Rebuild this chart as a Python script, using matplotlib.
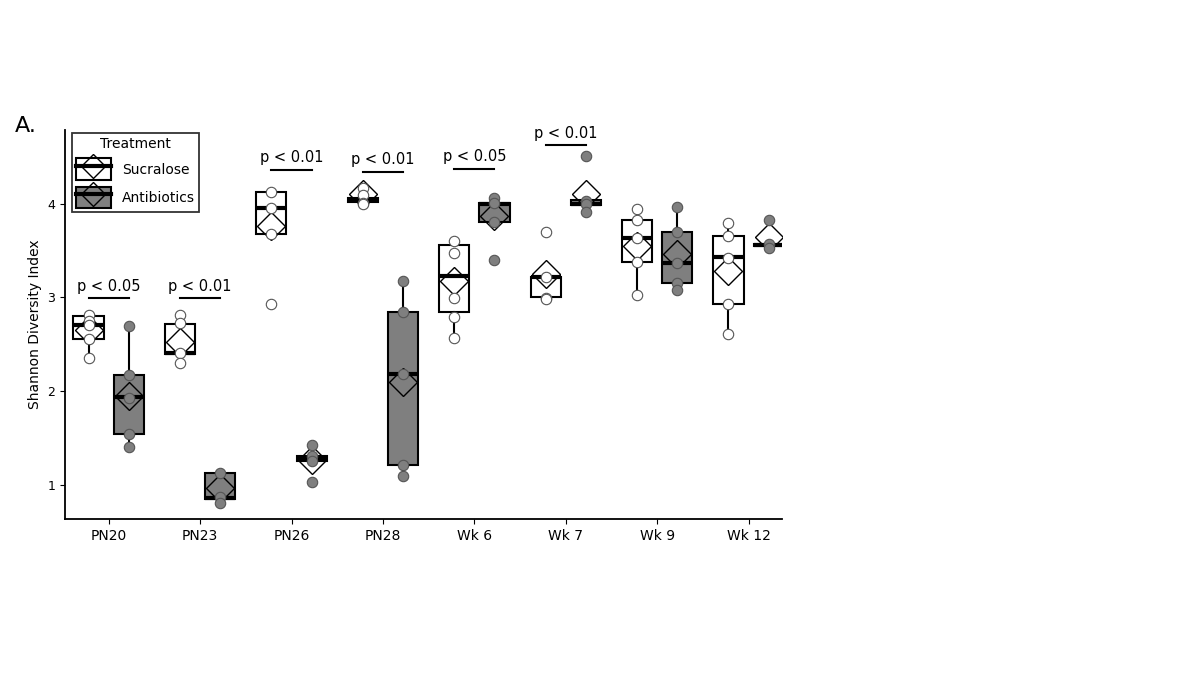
import matplotlib.pyplot as plt
from matplotlib.patches import Patch
from matplotlib.lines import Line2D

timepoints = ['PN20', 'PN23', 'PN26', 'PN28', 'Wk 6', 'Wk 7', 'Wk 9', 'Wk 12']

# box stats per timepoint: (q1, median, q3, whisker low, whisker high, mean)
suc_stats = [
    (2.56, 2.71, 2.80, 2.35, 2.80, 2.65),
    (2.40, 2.41, 2.72, 2.40, 2.72, 2.53),
    (3.68, 3.95, 4.12, 3.68, 4.12, 3.76),
    (4.02, 4.04, 4.06, 4.02, 4.06, 4.10),
    (2.84, 3.23, 3.56, 2.57, 3.56, 3.18),
    (3.00, 3.22, 3.22, 3.00, 3.22, 3.25),
    (3.38, 3.63, 3.82, 3.03, 3.94, 3.55),
    (2.93, 3.43, 3.65, 2.61, 3.79, 3.28),
]
abx_stats = [
    (1.55, 1.94, 2.17, 1.41, 2.70, 1.95),
    (0.85, 0.86, 1.13, 0.85, 1.13, 0.97),
    (1.26, 1.29, 1.31, 1.26, 1.31, 1.27),
    (1.22, 2.18, 2.85, 1.10, 3.18, 2.10),
    (3.80, 4.00, 4.01, 3.80, 4.01, 3.87),
    (3.98, 4.00, 4.04, 3.98, 4.04, 4.10),
    (3.15, 3.37, 3.70, 3.15, 3.96, 3.46),
    (3.55, 3.56, 3.57, 3.55, 3.57, 3.64),
]
suc_points = [
    [2.81, 2.75, 2.71, 2.56, 2.35],
    [2.81, 2.73, 2.41, 2.30],
    [4.12, 3.95, 3.68, 2.93],
    [4.17, 4.09, 4.01, 3.99],
    [3.60, 3.47, 2.99, 2.79, 2.57],
    [3.70, 3.22, 2.99, 2.98],
    [3.94, 3.82, 3.63, 3.38, 3.03],
    [3.79, 3.65, 3.42, 2.93, 2.61],
]
abx_points = [
    [2.70, 2.17, 1.93, 1.55, 1.41],
    [1.13, 0.87, 0.81],
    [1.43, 1.31, 1.26, 1.04],
    [3.18, 2.85, 2.18, 1.22, 1.10],
    [4.06, 4.01, 3.80, 3.40],
    [4.51, 4.03, 4.00, 3.91],
    [3.96, 3.70, 3.37, 3.15, 3.08],
    [3.82, 3.57, 3.53],
]
# significance bars: (timepoint index, bar height, label)
sig = [(0, 2.99, 'p < 0.05'), (1, 2.99, 'p < 0.01'), (2, 4.36, 'p < 0.01'),
       (3, 4.34, 'p < 0.01'), (4, 4.37, 'p < 0.05'), (5, 4.62, 'p < 0.01')]

GRAY = '#7f7f7f'
off = 0.22
width = 0.33

fig = plt.figure(figsize=(12, 6.75), dpi=100)
ax = fig.add_axes([0.054, 0.231, 0.598, 0.576])


def draw_group(stats, points, shift, face):
    bxp_stats = []
    for q1, med, q3, lo, hi, mean in stats:
        bxp_stats.append(dict(q1=q1, med=med, q3=q3, whislo=lo, whishi=hi,
                              mean=mean, fliers=[]))
    pos = [i + shift for i in range(len(stats))]
    ax.bxp(bxp_stats, positions=pos, widths=width, patch_artist=True,
           showcaps=False, showfliers=False, showmeans=True,
           boxprops=dict(facecolor=face, edgecolor='black', linewidth=1.5),
           whiskerprops=dict(color='black', linewidth=1.5),
           medianprops=dict(color='black', linewidth=3),
           meanprops=dict(marker='D', markersize=14, markerfacecolor='none',
                          markeredgecolor='black', markeredgewidth=1.0),
           zorder=2)
    for p, vals in zip(pos, points):
        ax.plot([p] * len(vals), vals, 'o', markersize=7.5, markerfacecolor=face,
                markeredgecolor='#555555', markeredgewidth=0.8, zorder=3)


draw_group(suc_stats, suc_points, -off, 'white')
draw_group(abx_stats, abx_points, off, GRAY)

for i, h, label in sig:
    ax.plot([i - off, i + off], [h, h], color='black', linewidth=1.5)
    ax.text(i, h + 0.05, label, ha='center', va='bottom', fontsize=10.5)

ax.set_xlim(-0.48, len(timepoints) - 0.63)
ax.set_ylim(0.64, 4.78)
ax.set_xticks(range(len(timepoints)))
ax.set_xticklabels(timepoints, fontsize=10)
ax.set_yticks([1, 2, 3, 4])
ax.tick_params(axis='y', labelsize=9)
ax.set_ylabel('Shannon Diversity Index', fontsize=10)
ax.spines['top'].set_visible(False)
ax.spines['right'].set_visible(False)
ax.spines['left'].set_linewidth(1.3)
ax.spines['bottom'].set_linewidth(1.3)

dia = dict(marker='D', markersize=12, markerfacecolor='none',
           markeredgecolor='black', linestyle='none')
h_suc = (Patch(facecolor='white', edgecolor='black', linewidth=1.5),
         Line2D([], [], color='black', linewidth=3), Line2D([], [], **dia))
h_abx = (Patch(facecolor=GRAY, edgecolor='black', linewidth=1.5),
         Line2D([], [], color='black', linewidth=3), Line2D([], [], **dia))
leg = ax.legend([h_suc, h_abx], ['Sucralose', 'Antibiotics'], title='Treatment',
                loc='upper left', bbox_to_anchor=(0.0, 1.01), fontsize=10,
                title_fontsize=10, fancybox=False, edgecolor='black',
                handlelength=2.5, handleheight=2.0, borderpad=0.3)
leg.get_frame().set_linewidth(1.3)

fig.text(0.012, 0.805, 'A.', fontsize=16)

fig.savefig('out.png', dpi=100)
